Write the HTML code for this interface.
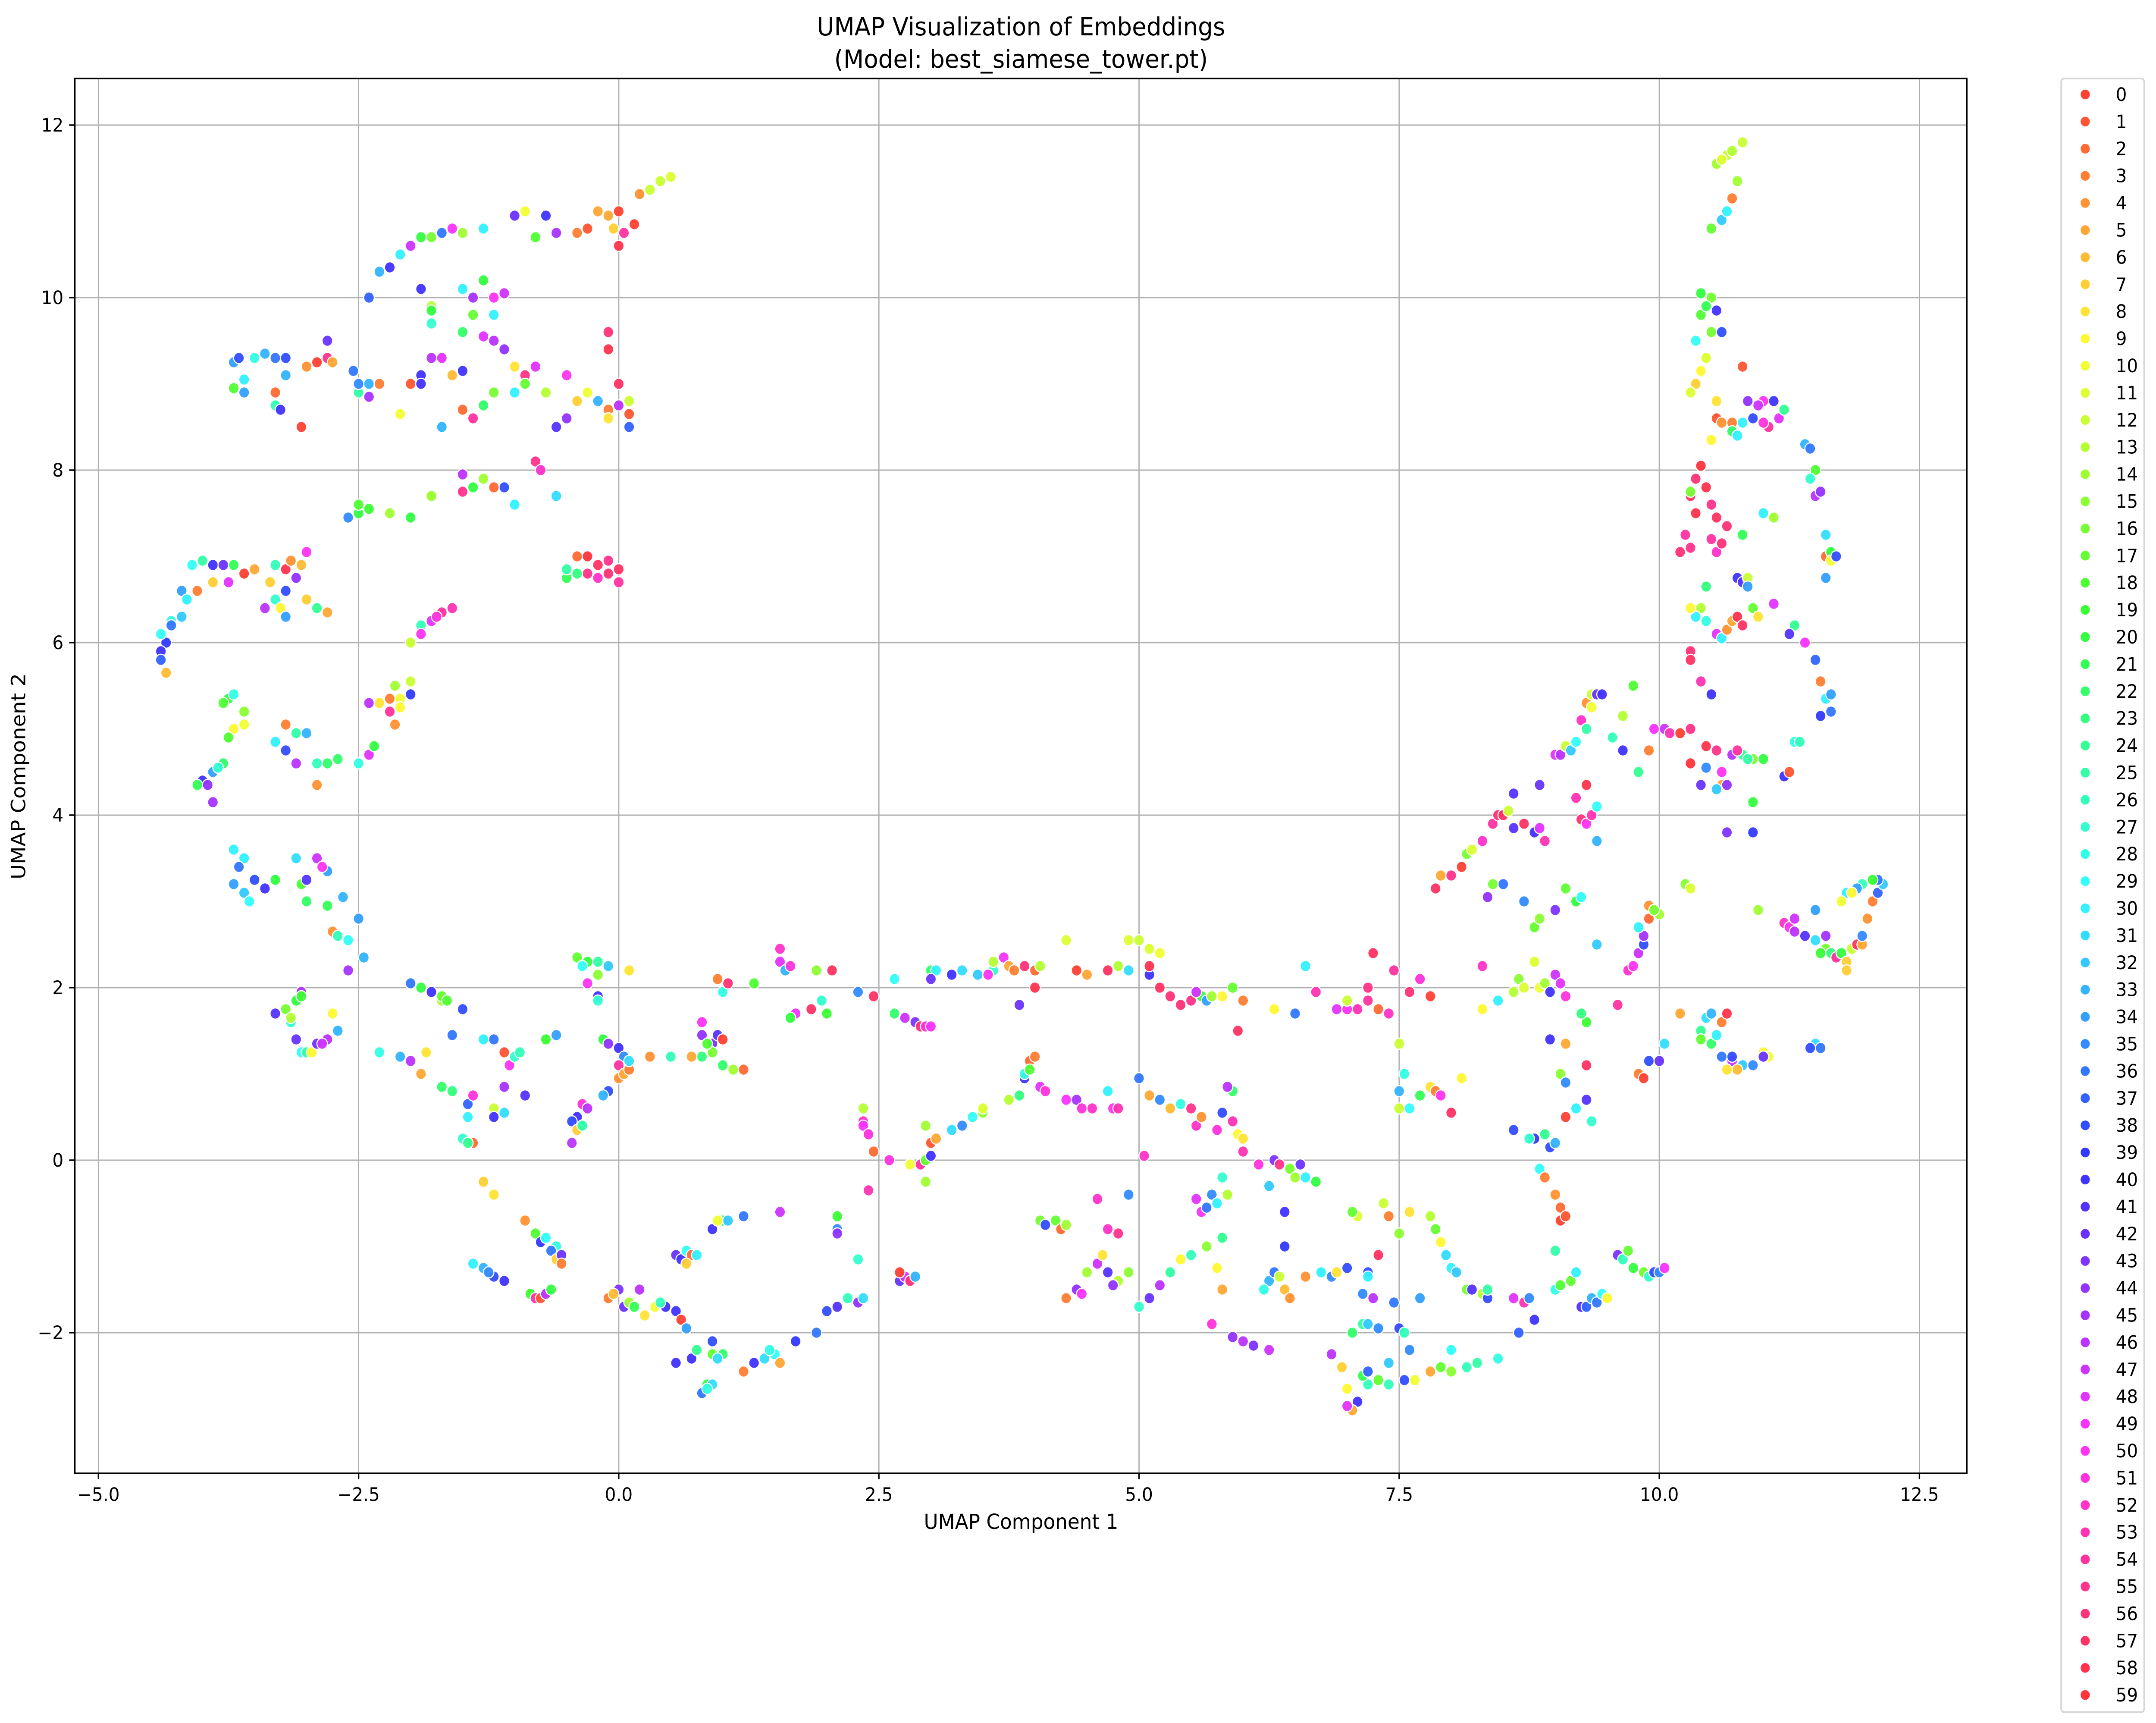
<!DOCTYPE html>
<html><head><meta charset="utf-8"><title>UMAP Visualization of Embeddings</title>
<style>html,body{margin:0;padding:0;background:#fff;width:100%;height:100%;overflow:hidden}svg{display:block;width:100vw;height:100vh}</style></head>
<body>
<svg id="chart" xmlns="http://www.w3.org/2000/svg" viewBox="0 0 5300 3995" preserveAspectRatio="none" font-family="'DejaVu Sans','Liberation Sans',sans-serif">
<rect width="5300" height="3995" fill="#fff"/>
<g id="grid"></g>
<g id="points"></g>
<g id="axes"></g>
<g id="legend"></g>
<text x="2510" y="82" font-size="58" text-anchor="middle">UMAP Visualization of Embeddings</text>
<text x="2510" y="157" font-size="58" text-anchor="middle">(Model: best_siamese_tower.pt)</text>
<text x="2510" y="3545" font-size="48" text-anchor="middle">UMAP Component 1</text>
<text x="0" y="0" font-size="48" text-anchor="middle" transform="translate(62,1800) rotate(-90)">UMAP Component 2</text>
</svg>
<script>
const xTicks = [-5.0,-2.5,0.0,2.5,5.0,7.5,10.0,12.5];
const xTickLabels = ["\u22125.0","\u22122.5","0.0","2.5","5.0","7.5","10.0","12.5"];
const yTicks = [-2,0,2,4,6,8,10,12];
const yTickLabels = ["\u22122","0","2","4","6","8","10","12"];
const classLabels = Array.from({length:60},(_, i)=>String(i));
// flat triples: x, y, class
const umapPoints = [
-2.4,10.0,37,-2.3,10.3,33,-2.2,10.35,40,-2.1,10.5,30,-2.0,10.6,47,-1.9,10.7,20,-1.8,10.7,16,-1.7,10.75,36,-1.6,10.8,49,-1.5,10.75,14,-1.3,10.8,30,-1.0,10.95,42,-0.9,11.0,10,-0.7,10.95,40,-0.6,10.75,45,-0.4,10.75,3,-0.3,10.8,1,-0.2,11.0,5,-0.1,10.95,5,0.0,11.0,0,0.05,10.75,54,0.0,10.6,58,0.15,10.85,0,0.2,11.2,4,0.3,11.25,12,0.4,11.35,12,0.5,11.4,11,-0.8,10.7,18,-0.05,10.8,7,
-1.5,10.1,30,-1.3,10.2,20,-1.2,10.0,50,-1.4,9.8,17,-1.2,9.8,30,-1.5,9.6,22,-1.3,9.55,48,-1.1,10.05,47,-1.4,10.0,45,-1.8,9.9,13,-1.9,10.1,40,-1.8,9.7,27,-1.8,9.85,20,
-1.1,9.4,44,-1.0,9.2,8,-0.9,9.1,55,-0.8,9.2,48,-1.0,8.9,30,-0.9,9.0,17,-1.2,9.5,46,-1.9,9.1,40,-1.8,9.3,46,-1.7,9.3,48,-2.0,9.0,1,-1.6,9.1,6,-1.5,9.15,40,-1.9,9.0,40,-2.1,8.65,10,-1.7,8.5,33,-1.5,8.7,2,-1.3,8.75,22,-1.2,8.9,16,-1.4,8.6,54,
-0.5,9.1,50,-0.7,8.9,13,-0.6,8.5,41,-0.5,8.6,44,-0.4,8.8,7,-0.3,8.9,10,-0.2,8.8,33,-0.1,8.7,3,0.0,8.75,46,0.1,8.65,1,0.1,8.5,37,-0.1,8.6,8,0.0,9.0,57,-0.1,9.4,58,-0.1,9.6,56,0.1,8.8,12,
-0.8,8.1,55,-0.75,8.0,52,-1.1,7.8,38,-1.2,7.8,2,-1.5,7.95,46,-1.4,7.8,20,-1.3,7.9,14,-1.5,7.75,55,-1.0,7.6,30,-0.6,7.7,31,-1.8,7.7,19,
-3.2,9.3,38,-3.3,9.3,36,-3.4,9.35,33,-3.5,9.3,28,-3.7,9.25,34,-3.65,9.3,38,-3.6,9.05,30,-3.7,8.95,18,-3.6,8.9,34,-3.2,9.1,33,-3.0,9.2,4,-2.8,9.3,55,-2.9,9.25,0,-2.75,9.25,5,-2.8,9.5,42,-2.55,9.15,36,-2.4,9.0,33,-2.5,8.9,25,-2.4,8.85,45,-2.3,9.0,3,-3.3,8.75,26,-3.25,8.7,40,-3.3,8.9,2,-3.05,8.5,0,-2.5,9.0,35,
-2.6,7.45,35,-2.5,7.5,20,-2.5,7.6,18,-2.4,7.55,19,-2.2,7.5,14,-2.0,7.45,20,-1.8,7.7,14,
-0.5,6.75,21,-0.4,6.8,23,-0.3,6.8,55,-0.2,6.9,57,-0.3,7.0,59,-0.1,6.95,55,-0.4,7.0,2,0.0,6.85,57,-0.2,6.75,52,-0.5,6.85,25,-0.1,6.8,56,0.0,6.7,54,
-1.7,6.35,54,-1.6,6.4,53,-1.8,6.25,48,-1.9,6.2,26,-1.9,6.1,50,-1.75,6.3,51,-2.0,6.0,12,
-4.1,6.9,29,-4.0,6.95,25,-3.9,6.9,40,-3.8,6.9,42,-3.7,6.9,21,-3.6,6.8,0,-3.5,6.85,5,-4.05,6.6,3,-3.9,6.7,7,-3.75,6.7,48,-4.3,6.25,28,-4.2,6.3,32,-4.3,6.2,36,-4.35,6.0,39,-4.4,5.9,40,-4.4,5.8,37,-4.35,5.65,6,-4.4,6.1,29,-4.2,6.6,34,-4.15,6.5,30,-3.4,6.4,46,-3.3,6.9,26,-3.2,6.85,58,-3.15,6.95,4,-3.1,6.75,44,-3.2,6.6,38,-3.3,6.5,27,-3.05,6.9,6,-3.0,7.05,50,-2.9,6.4,24,-2.8,6.35,5,-3.0,6.5,7,-3.25,6.4,9,-3.35,6.7,7,-3.2,6.3,34,
-3.75,5.35,20,-3.8,5.3,18,-3.7,5.4,28,-3.6,5.2,15,-3.7,5.0,9,-3.6,5.05,10,-3.75,4.9,18,-4.0,4.4,40,-3.95,4.35,44,-4.05,4.35,21,-3.9,4.5,34,-3.8,4.6,22,-3.85,4.55,27,-3.9,4.15,45,-3.3,4.85,30,-3.2,5.05,3,-3.1,4.95,25,-3.1,4.6,46,-3.2,4.75,38,-3.0,4.95,33,-2.9,4.6,26,-2.8,4.6,22,-2.9,4.35,4,-2.7,4.65,22,-2.5,4.6,28,-2.4,4.7,48,-2.35,4.8,20,-2.4,5.3,46,-2.3,5.3,8,-2.2,5.35,3,-2.1,5.35,10,-2.2,5.2,54,-2.15,5.05,4,-2.1,5.25,9,-2.0,5.55,12,-2.0,5.4,39,-2.15,5.5,14,
-3.7,3.6,30,-3.6,3.5,30,-3.65,3.4,36,-3.7,3.2,34,-3.6,3.1,32,-3.55,3.0,29,-3.4,3.15,40,-3.5,3.25,38,-3.3,3.25,20,-3.1,3.5,31,-3.05,3.2,18,-3.0,3.25,41,-2.9,3.5,47,-2.8,3.35,34,-2.85,3.4,50,-3.0,3.0,22,-2.8,2.95,21,-2.75,2.65,4,-2.7,2.6,26,-2.6,2.55,29,-2.65,3.05,33,-2.5,2.8,34,-2.45,2.35,33,
-3.3,1.7,41,-3.2,1.75,16,-3.15,1.6,27,-3.1,1.85,20,-3.05,1.95,45,-3.05,1.9,19,-3.1,1.4,42,-3.05,1.25,29,-3.0,1.25,25,-2.95,1.25,9,-2.9,1.35,42,-2.8,1.4,46,-2.7,1.5,33,-2.75,1.7,9,-2.85,1.35,47,-3.15,1.65,13,
-2.6,2.2,45,-2.3,1.25,28,-2.1,1.2,33,-2.0,2.05,36,-1.9,2.0,20,-2.0,1.15,46,-1.9,1.0,5,-1.85,1.25,8,-1.8,1.95,40,-1.7,1.85,14,-1.7,1.9,17,-1.65,1.85,18,-1.5,1.75,38,-1.6,1.45,36,-1.7,0.85,22,-1.6,0.8,23,-1.45,0.65,37,-1.4,0.75,51,-1.45,0.5,30,-1.5,0.25,27,-1.4,0.2,2,-1.45,0.2,24,-1.2,0.6,12,-1.1,0.55,31,-1.2,0.5,40,-1.1,0.85,45,-1.1,1.25,1,-1.05,1.1,50,-1.0,1.2,27,-0.9,0.75,41,-0.95,1.25,26,-1.2,1.4,36,-1.3,1.4,30,
-0.6,1.45,34,-0.7,1.4,19,-0.4,2.35,17,-0.3,2.3,20,-0.35,2.25,29,-0.2,2.3,25,-0.1,2.25,32,-0.2,2.15,15,-0.3,2.05,50,-0.2,1.9,40,-0.2,1.85,27,-0.15,1.4,20,-0.1,1.35,44,0.0,1.3,40,0.05,1.2,35,0.0,1.1,54,0.1,2.2,8,0.0,0.95,4,0.05,1.0,5,0.1,1.05,3,0.1,1.15,31,-0.1,0.8,38,-0.15,0.75,33,-0.4,0.5,40,-0.45,0.45,38,-0.35,0.4,30,-0.4,0.35,7,-0.45,0.2,46,-0.35,0.65,51,-0.3,0.6,46,-0.35,0.4,25,
-1.3,-0.25,7,-1.2,-0.4,8,-1.4,-1.2,30,-1.3,-1.25,33,-1.2,-1.35,38,-1.1,-1.4,40,-1.25,-1.3,35,-0.9,-0.7,4,-0.8,-0.85,18,-0.75,-0.95,39,-0.7,-0.9,29,-0.6,-1.0,28,-0.65,-1.05,36,-0.6,-1.15,7,-0.55,-1.1,42,-0.55,-1.2,3,-0.85,-1.55,19,-0.8,-1.6,54,-0.75,-1.6,1,-0.7,-1.55,46,-0.65,-1.5,20,
-0.1,-1.6,3,0.0,-1.5,43,-0.05,-1.55,6,0.05,-1.7,42,0.1,-1.65,14,0.15,-1.7,21,0.2,-1.5,46,0.25,-1.8,8,0.35,-1.7,10,0.45,-1.7,40,0.4,-1.65,26,0.55,-1.75,40,0.6,-1.85,0,0.65,-1.95,34,0.55,-2.35,40,0.7,-2.3,40,0.75,-2.2,24,0.85,-2.6,20,0.8,-2.7,36,0.9,-2.6,31,0.85,-2.65,28,0.9,-2.25,17,1.0,-2.25,22,0.9,-2.1,38,0.95,-2.3,31,1.2,-2.45,3,1.3,-2.35,40,1.4,-2.3,31,1.5,-2.25,29,1.55,-2.35,5,1.45,-2.2,28,1.7,-2.1,39,1.9,-2.0,36,2.0,-1.75,38,2.1,-1.7,41,2.3,-1.65,44,2.2,-1.6,26,2.35,-1.6,31,
0.55,-1.1,42,0.6,-1.15,40,0.65,-1.05,29,0.7,-1.1,2,0.75,-1.1,30,0.65,-1.2,7,0.9,-0.8,40,1.0,-0.7,21,1.05,-0.7,32,1.2,-0.65,36,0.95,-0.7,10,
0.8,1.45,44,0.8,1.6,50,0.9,1.35,43,0.95,1.45,41,1.0,1.4,0,0.9,1.25,16,0.8,1.2,23,0.85,1.35,18,1.0,1.1,22,1.1,1.05,14,1.2,1.05,2,0.95,2.1,3,1.0,1.95,28,1.05,2.05,56,0.7,1.2,5,0.3,1.2,4,0.5,1.2,26,1.3,2.05,18,1.55,2.3,48,1.6,2.2,33,1.55,2.45,52,1.65,2.25,51,1.7,1.7,49,1.65,1.65,20,1.85,1.75,57,2.0,1.7,19,1.95,1.85,27,1.9,2.2,15,2.05,2.2,57,2.3,1.95,35,2.45,1.9,57,
2.35,0.6,13,2.35,0.45,52,2.35,0.4,49,2.4,0.3,51,2.4,-0.35,53,2.45,0.1,2,2.6,0.0,51,2.8,-0.05,10,2.9,-0.05,54,2.95,0.0,17,3.0,0.05,40,3.0,0.2,1,3.05,0.25,5,3.2,0.35,31,3.3,0.4,35,3.4,0.5,29,3.5,0.55,15,3.5,0.6,11,2.1,-0.65,19,2.1,-0.8,35,2.1,-0.85,44,2.3,-1.15,27,2.95,0.4,14,2.95,-0.25,14,1.55,-0.6,47,2.7,-1.4,42,2.75,-1.35,47,2.8,-1.4,56,2.85,-1.35,33,2.7,-1.3,0,
2.65,1.7,22,2.75,1.65,47,2.85,1.6,43,2.9,1.55,56,2.95,1.55,51,3.0,1.55,49,2.65,2.1,29,3.0,2.2,22,3.05,2.2,30,3.0,2.1,42,3.2,2.15,40,3.3,2.2,31,3.45,2.15,32,3.6,2.2,27,3.55,2.15,50,3.7,2.35,49,3.75,2.25,5,3.8,2.2,3,3.9,2.25,56,4.0,2.2,2,4.0,2.0,58,4.05,2.25,13,3.85,1.8,42,3.6,2.3,13,3.75,0.7,13,3.85,0.75,23,3.9,0.95,40,3.9,1.0,28,3.95,1.15,2,3.95,1.05,18,4.0,1.2,3,4.05,0.85,48,4.1,0.8,51,
4.3,2.55,11,4.4,2.2,0,4.5,2.15,5,4.7,2.2,57,4.8,2.25,13,4.9,2.55,11,5.0,2.55,12,5.1,2.45,11,5.2,2.4,10,4.9,2.2,31,5.1,2.15,40,5.1,2.25,58,5.2,2.0,57,5.3,1.9,56,5.5,1.85,55,5.6,1.9,20,5.65,1.85,34,5.7,1.9,14,5.55,1.95,47,5.4,1.8,56,5.8,1.9,9,5.9,2.0,17,6.0,1.85,3,5.95,1.5,57,6.3,1.75,9,6.5,1.7,36,6.6,2.25,30,6.7,1.95,53,6.9,1.75,48,7.0,1.75,50,7.1,1.75,53,7.0,1.85,12,7.2,1.85,54,7.2,2.0,55,7.25,2.4,57,7.3,1.75,2,7.4,1.7,52,7.45,2.2,54,7.5,1.35,12,7.6,1.95,56,7.7,2.1,51,7.8,1.9,0,7.55,1.0,28,7.5,0.8,33,7.6,0.6,29,7.7,0.75,21,7.8,0.85,8,7.85,0.8,3,7.9,0.75,50,8.0,0.55,57,7.5,0.6,12,8.1,0.95,9,
4.3,0.7,49,4.4,0.7,45,4.45,0.6,51,4.55,0.6,52,4.7,0.8,30,4.75,0.6,50,4.8,0.6,53,5.0,0.95,36,5.1,0.75,5,5.2,0.7,35,5.3,0.6,6,5.4,0.65,28,5.5,0.6,55,5.55,0.4,52,5.6,0.5,4,5.75,0.35,51,5.8,0.55,38,5.9,0.45,53,5.9,0.8,22,5.85,0.85,46,5.95,0.3,9,6.0,0.25,8,6.0,0.1,53,6.15,-0.05,51,6.3,0.0,43,6.35,-0.05,55,6.45,-0.1,16,6.5,-0.2,14,6.55,-0.05,42,6.6,-0.2,30,6.7,-0.25,20,6.4,-0.6,40,6.4,-1.0,39,6.25,-0.3,32,5.05,0.05,52,4.6,-0.45,52,4.7,-0.8,52,4.8,-0.85,55,5.7,-0.4,35,5.75,-0.5,30,5.8,-0.2,27,5.85,-0.4,13,5.55,-0.45,48,5.6,-0.6,49,5.65,-0.55,36,5.8,-0.9,24,
4.05,-0.7,16,4.1,-0.75,38,4.2,-0.7,17,4.25,-0.8,2,4.3,-0.75,14,4.3,-1.6,3,4.4,-1.5,44,4.45,-1.55,49,4.5,-1.3,14,4.6,-1.2,47,4.65,-1.1,8,4.7,-1.3,41,4.8,-1.4,13,4.75,-1.45,44,4.9,-1.3,15,5.0,-1.7,27,5.1,-1.6,42,5.2,-1.45,46,5.3,-1.3,25,5.4,-1.15,9,5.5,-1.1,26,5.65,-1.0,15,5.8,-1.5,5,5.75,-1.25,9,4.9,-0.4,35,
5.7,-1.9,51,5.9,-2.05,44,6.0,-2.1,46,6.1,-2.15,43,6.25,-2.2,47,6.25,-1.4,33,6.3,-1.3,36,6.4,-1.5,6,6.2,-1.5,28,6.35,-1.35,12,6.45,-1.6,4,6.6,-1.35,4,6.75,-1.3,30,6.85,-1.35,35,6.9,-1.3,8,7.0,-1.25,38,7.2,-1.3,38,7.2,-1.35,30,7.3,-1.1,57,7.15,-1.55,35,7.25,-1.6,46,7.1,-0.65,11,7.05,-0.6,17,7.35,-0.5,12,7.4,-0.65,3,7.5,-0.85,15,7.6,-0.6,8,7.8,-0.65,13,7.85,-0.8,17,7.9,-0.95,9,7.95,-1.1,31,8.0,-1.25,30,8.05,-1.3,32,8.15,-1.5,16,8.2,-1.5,41,8.3,-1.55,13,8.35,-1.6,38,8.6,-1.6,48,8.7,-1.65,53,8.65,-2.0,37,8.45,-2.3,28,8.25,-2.35,25,8.15,-2.4,26,8.0,-2.45,15,7.9,-2.4,17,7.8,-2.45,5,7.65,-2.55,10,7.55,-2.55,38,7.4,-2.6,26,7.2,-2.6,26,7.15,-2.5,21,7.1,-2.8,40,7.05,-2.9,5,7.0,-2.85,48,7.0,-2.65,9,6.95,-2.4,7,6.85,-2.25,46,7.05,-2.0,22,7.15,-1.9,25,7.2,-2.45,37,7.3,-1.95,35,7.45,-1.65,36,7.5,-1.95,38,7.55,-2.0,26,7.6,-2.2,35,7.4,-2.35,32,7.3,-2.55,17,7.2,-1.9,32,7.7,-1.6,34,8.8,-1.85,40,8.75,-1.6,35,8.0,-2.2,29,8.35,-1.5,25,
8.85,-0.1,29,8.95,0.15,38,8.8,0.25,39,8.9,0.3,24,9.0,0.2,33,8.6,0.35,38,8.75,0.25,27,8.9,-0.2,3,9.0,-0.4,4,9.05,-0.55,2,9.05,-0.7,0,9.1,-0.65,1,9.0,-1.05,25,9.0,-1.5,28,9.05,-1.45,18,9.15,-1.4,17,9.2,-1.3,30,9.25,-1.7,41,9.3,-1.7,37,9.35,-1.6,33,9.4,-1.65,36,9.45,-1.55,29,9.5,-1.6,9,9.6,-1.1,43,9.65,-1.15,26,9.7,-1.05,17,9.75,-1.25,20,9.85,-1.3,16,9.9,-1.35,27,9.95,-1.3,38,10.0,-1.3,35,10.05,-1.25,49,
8.3,2.25,52,8.3,1.75,9,8.45,1.85,30,8.6,1.95,13,8.65,2.1,15,8.7,2.0,11,8.85,2.0,10,8.9,2.05,14,8.95,1.95,40,8.8,2.3,11,9.0,2.15,47,9.05,2.05,48,9.1,1.9,51,8.95,1.4,40,9.1,1.35,5,9.3,1.1,57,9.3,1.6,19,9.25,1.7,23,9.05,1.0,15,9.1,0.5,0,9.1,0.9,35,9.2,0.6,30,9.3,0.7,41,9.35,0.45,27,9.6,1.8,54,9.7,2.2,52,9.75,2.25,50,9.8,2.4,47,9.85,2.5,38,9.85,2.6,45,9.9,2.8,2,9.9,2.95,4,9.8,2.7,30,10.0,2.85,14,9.95,2.9,16,9.8,1.0,3,9.85,0.95,0,9.9,1.15,38,10.0,1.15,42,10.05,1.35,31,10.2,1.7,5,10.25,3.2,15,10.3,3.15,11,9.9,4.75,3,9.95,5.0,49,10.05,5.0,47,10.1,4.95,53,
7.85,3.15,57,7.9,3.3,5,8.0,3.3,55,8.1,3.4,0,8.15,3.55,16,8.2,3.6,11,8.3,3.7,52,8.4,3.9,54,8.45,4.0,56,8.5,4.0,57,8.55,4.05,12,8.6,3.85,41,8.5,3.2,36,8.35,3.05,44,8.4,3.2,16,8.6,4.25,41,8.7,3.9,57,8.8,3.8,40,8.85,3.85,48,8.9,3.7,53,8.85,4.35,42,8.7,3.0,35,8.8,2.7,17,8.85,2.8,15,9.0,2.9,43,9.1,3.15,17,9.2,3.0,20,9.25,3.05,29,9.0,4.7,48,9.05,4.7,46,9.1,4.8,12,9.15,4.75,32,9.2,4.85,29,9.25,5.1,52,9.3,5.3,4,9.35,5.4,12,9.35,5.25,10,9.4,5.4,42,9.45,5.4,40,9.3,5.0,25,9.3,4.35,58,9.2,4.2,53,9.25,3.95,56,9.3,3.9,50,9.35,4.0,53,9.4,4.1,29,9.4,3.7,33,9.4,2.5,32,9.65,4.75,40,9.75,5.5,18,9.65,5.15,13,9.8,4.5,24,9.55,4.9,26,
10.5,10.8,17,10.6,10.9,32,10.65,11.0,30,10.7,11.15,3,10.55,11.55,14,10.65,11.65,12,10.7,11.7,13,10.8,11.8,12,10.75,11.35,14,10.6,11.6,11,10.5,10.0,16,10.4,10.05,20,10.4,9.8,18,10.5,9.6,16,10.45,9.9,21,10.55,9.85,40,10.6,9.6,38,10.35,9.5,29,10.45,9.3,11,10.4,9.15,9,10.35,9.0,7,10.3,8.9,11,10.55,8.8,8,10.55,8.6,1,10.6,8.55,4,10.5,8.35,9,10.7,8.55,3,10.7,8.45,22,10.75,8.4,30,10.8,9.2,1,10.85,8.8,44,10.9,8.6,38,11.0,8.8,50,11.1,8.8,40,11.15,8.6,48,11.2,8.7,24,11.05,8.5,54,11.0,8.55,51,10.8,8.55,30,10.95,8.75,47,11.4,8.3,33,11.45,8.25,36,11.5,8.0,18,11.45,7.9,27,11.5,7.7,46,11.55,7.75,44,11.0,7.5,30,11.1,7.45,14,11.3,6.2,24,11.4,6.0,49,11.25,6.1,41,11.1,6.45,48,11.6,7.25,31,11.6,7.0,2,11.65,7.05,20,11.65,6.95,10,11.7,7.0,38,11.6,6.75,34,11.5,5.8,37,11.55,5.55,3,11.6,5.35,30,11.65,5.4,34,11.55,5.15,39,11.65,5.2,36,11.3,4.85,28,11.35,4.85,26,11.2,4.45,40,11.25,4.5,1,11.0,4.65,20,10.9,4.65,16,10.8,4.7,24,10.85,4.65,25,10.9,4.15,20,10.9,3.8,39,10.65,3.8,43,10.3,4.6,59,10.4,4.35,42,10.45,4.8,58,10.55,4.75,55,10.6,4.5,50,10.6,4.35,5,10.55,4.3,32,10.65,4.35,44,10.7,4.7,46,10.75,4.75,54,10.45,4.55,35,
10.2,7.05,56,10.3,7.1,55,10.25,7.25,54,10.35,7.5,58,10.3,7.7,57,10.35,7.9,56,10.4,8.05,59,10.45,7.8,58,10.5,7.6,55,10.55,7.45,57,10.5,7.2,54,10.55,7.05,52,10.6,7.15,56,10.65,7.35,56,10.3,7.75,16,10.45,6.65,23,10.4,6.4,13,10.35,6.3,30,10.3,6.4,9,10.45,6.25,28,10.3,5.9,56,10.3,5.8,57,10.4,5.55,53,10.5,5.4,40,10.55,6.1,48,10.6,6.05,30,10.65,6.15,4,10.7,6.25,5,10.75,6.3,58,10.8,6.2,57,10.75,6.75,40,10.8,6.7,41,10.85,6.75,12,10.85,6.65,34,10.9,6.4,17,10.8,7.25,21,10.95,6.3,8,10.3,5.0,55,10.2,4.95,0,
10.4,1.5,24,10.45,1.65,31,10.5,1.7,33,10.4,1.4,17,10.5,1.35,22,10.55,1.45,30,10.6,1.6,3,10.65,1.7,58,10.6,1.2,36,10.7,1.15,47,10.8,1.1,32,10.9,1.1,35,10.75,1.05,6,10.65,1.05,8,10.7,1.2,38,11.0,1.25,9,11.05,1.2,10,11.0,1.2,42,11.2,2.75,52,11.25,2.7,50,11.3,2.8,47,11.3,2.65,46,11.4,2.6,41,11.5,2.55,31,11.6,2.45,16,11.65,2.4,23,11.7,2.35,54,11.75,2.4,20,11.8,2.3,7,11.85,2.45,12,11.9,2.5,57,11.95,2.5,5,12.0,2.8,4,12.05,3.0,3,12.1,3.1,37,12.15,3.2,32,12.1,3.25,36,12.05,3.25,19,11.95,3.2,26,11.9,3.15,34,11.8,3.1,30,11.75,3.0,10,11.85,3.1,9,11.5,1.35,31,11.55,1.3,36,11.45,1.3,38,11.5,2.9,34,11.55,2.4,19,11.8,2.2,7,11.95,2.6,35,11.6,2.6,45,10.95,2.9,14
];
const xs = [], ys = [], cls = [];
for (let i = 0; i < umapPoints.length; i += 3) { xs.push(umapPoints[i]); ys.push(umapPoints[i+1]); cls.push(umapPoints[i+2]); }

const NS = "http://www.w3.org/2000/svg";
const AX = {left:184, right:4835, top:182, bottom:3416};
function sx(v){ return 242 + (v + 5) * 255.8; }
function sy(v){ return 290 + (12 - v) * 200; }
function color(i){ return "hsl(" + ((i * 6 + 4) % 360) + ",100%,60%)"; }
function mk(tag, attrs, parent){ const e = document.createElementNS(NS, tag); for (const k in attrs) e.setAttribute(k, attrs[k]); parent.appendChild(e); return e; }

const grid = document.getElementById("grid");
xTicks.forEach(t => {
  const l = mk("line", {x1:sx(t), x2:sx(t), y1:AX.top, y2:AX.bottom, stroke:"#b0b0b0", "stroke-width":3}, grid);
  
  
});
yTicks.forEach(t => {
  const l = mk("line", {x1:AX.left, x2:AX.right, y1:sy(t), y2:sy(t), stroke:"#b0b0b0", "stroke-width":3}, grid);
  
  
});

const pts = document.getElementById("points");
for (let i = 0; i < xs.length; i++) {
  const c = mk("circle", {cx:sx(xs[i]), cy:sy(ys[i]), r:13, fill:color(cls[i]), stroke:"#fff", "stroke-width":2.5, "fill-opacity":0.95}, pts);
  
  
}

const axes = document.getElementById("axes");
const frame = mk("rect", {x:AX.left, y:AX.top, width:AX.right-AX.left, height:AX.bottom-AX.top, fill:"none", stroke:"#000", "stroke-width":3.5}, axes);


xTicks.forEach((t, i) => {
  const tk = mk("line", {x1:sx(t), x2:sx(t), y1:AX.bottom, y2:AX.bottom+14, stroke:"#000", "stroke-width":3.5}, axes);
  
  
  const tx = mk("text", {x:sx(t), y:AX.bottom+64, "font-size":43, "text-anchor":"middle"}, axes);
  tx.textContent = xTickLabels[i];
  
  
});
yTicks.forEach((t, i) => {
  const tk = mk("line", {x1:AX.left-14, x2:AX.left, y1:sy(t), y2:sy(t), stroke:"#000", "stroke-width":3.5}, axes);
  
  
  const tx = mk("text", {x:AX.left-28, y:sy(t)+15, "font-size":43, "text-anchor":"end"}, axes);
  tx.textContent = yTickLabels[i];
  
  
});

const leg = document.getElementById("legend");
const box = mk("rect", {x:5067, y:182, width:204, height:3788, rx:8, fill:"#fff", stroke:"#d6d6d6", "stroke-width":4}, leg);


classLabels.forEach((lab, i) => {
  const y = 219 + i * 62.9;
  const g = mk("g", {}, leg);
  
  
  mk("circle", {cx:5126, cy:y, r:12, fill:color(i), stroke:"#fff", "stroke-width":1.5}, g);
  const tx = mk("text", {x:5201, y:y+15, "font-size":43}, g);
  tx.textContent = lab;
});
</script>
</body></html>
